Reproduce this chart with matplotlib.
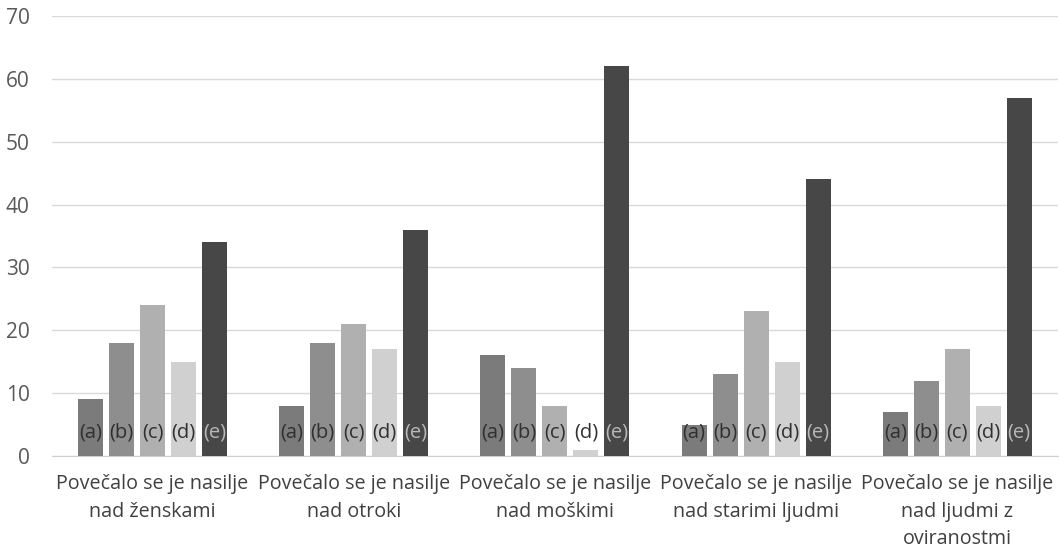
import matplotlib.pyplot as plt
import numpy as np

plt.rcParams['font.family'] = ['Open Sans', 'DejaVu Sans']

# kategorije in vrednosti
categories = [
    "Povečalo se je nasilje\nnad ženskami",
    "Povečalo se je nasilje\nnad otroki",
    "Povečalo se je nasilje\nnad moškimi",
    "Povečalo se je nasilje\nnad starimi ljudmi",
    "Povečalo se je nasilje\nnad ljudmi z\noviranostmi",
]
series_labels = ["(a)", "(b)", "(c)", "(d)", "(e)"]
val_a = [9, 8, 16, 5, 7]
val_b = [18, 18, 14, 13, 12]
val_c = [24, 21, 8, 23, 17]
val_d = [15, 17, 1, 15, 8]
val_e = [34, 36, 62, 44, 57]
yticks = [0, 10, 20, 30, 40, 50, 60, 70]

series = [val_a, val_b, val_c, val_d, val_e]
colors = ['#7b7b7b', '#8e8e8e', '#b0b0b0', '#d0d0d0', '#474747']
text_colors = ['#303030', '#303030', '#303030', '#303030', '#b8b8b8']

fig = plt.figure(figsize=(10.6, 5.52), dpi=100)
ax = fig.add_axes([0.049, 0.174, 0.949, 0.797])

x = np.arange(len(categories))
step = 0.154
width = 0.124
for i, vals in enumerate(series):
    pos = x + (i - 2) * step
    ax.bar(pos, vals, width=width, color=colors[i], zorder=3)
    for p in pos:
        ax.text(p, 3.8, series_labels[i], ha='center', va='center',
                fontsize=14.5, color=text_colors[i], zorder=4)

ax.set_xlim(-0.5, len(categories) - 0.5)
ax.set_ylim(0, 70)
ax.set_yticks(yticks)
ax.yaxis.grid(True, color='#d9d9d9', linewidth=1, zorder=0)
ax.set_xticks(x)
ax.set_xticklabels(categories, fontsize=14.2, color='#404040', linespacing=1.5)
ax.tick_params(axis='y', labelsize=15, labelcolor='#595959', length=0, pad=16)
ax.tick_params(axis='x', length=0, pad=13)
for side in ['top', 'right', 'left']:
    ax.spines[side].set_visible(False)
ax.spines['bottom'].set_color('#d0d0d0')

fig.savefig('out.png', dpi=100)
